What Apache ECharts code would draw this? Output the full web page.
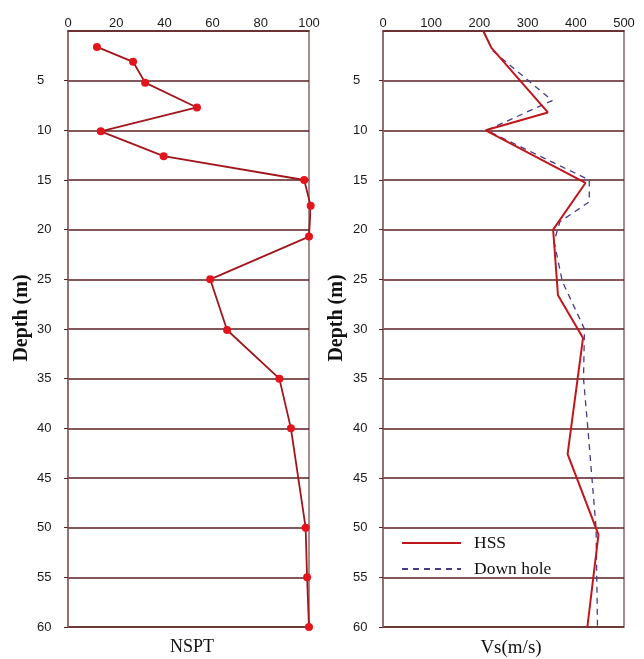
<!DOCTYPE html>
<html>
<head>
<meta charset="utf-8">
<script src="https://cdn.jsdelivr.net/npm/echarts@6/dist/echarts.min.js"></script>
<style>
  html, body { margin: 0; padding: 0; background: #fff; }
  #chart { width: 644px; height: 659px; }
</style>
</head>
<body>
<div id="chart"></div>
<script>
// NSPT profile (left panel)
const nsptDepth = [1.6, 3.1, 5.2, 7.7, 10.1, 12.6, 15, 17.6, 20.7, 25, 30.1, 35, 40, 50, 55, 60];
const nsptValue = [12, 27, 32, 53.5, 13.6, 39.7, 98, 100.7, 100, 59, 66, 87.7, 92.5, 98.6, 99.2, 100];

// Vs profiles (right panel)
const hssDepth = [0, 1.7, 8.2, 10, 15.3, 20, 26.6, 30.9, 42.6, 50.7, 60];
const hssVs = [208, 225, 342, 213, 420, 353, 363, 415, 383, 447, 424];
const dhDepth = [0, 2, 7, 10, 15, 17.2, 19.2, 21.2, 25.2, 30, 35, 40, 50, 60];
const dhVs = [208, 228, 351, 215, 428, 428, 367, 355, 372, 418, 416, 425, 442, 445];

const toPairs = (xs, ys) => xs.map((x, i) => [x, ys[i]]);

const borderCol = '#8a6868';
const gridCol = '#5a1f1f';
const tickFont = { color: '#1a1a1a', fontSize: 13, fontFamily: 'Liberation Sans, Arial, sans-serif' };
const serif = 'Liberation Serif, Times New Roman, serif';

const chart = echarts.init(document.getElementById('chart'));

const yAxisCfg = (gridIndex, margin) => ({
  gridIndex: gridIndex,
  type: 'value',
  inverse: true,
  min: 0,
  max: 60,
  interval: 5,
  axisLine: { show: true, lineStyle: { color: borderCol, width: 1.5 } },
  axisTick: { show: true, length: 4, lineStyle: { color: gridCol } },
  axisLabel: Object.assign({}, tickFont, {
    align: 'left',
    margin: margin,
    showMinLabel: false,
    formatter: v => (v === 0 ? '' : String(v))
  }),
  splitLine: { show: true, lineStyle: { color: gridCol, width: 1.5 } }
});

const xAxisCfg = (gridIndex, max, interval) => ({
  gridIndex: gridIndex,
  type: 'value',
  position: 'top',
  min: 0,
  max: max,
  interval: interval,
  axisLine: { show: true, lineStyle: { color: '#6b3030', width: 1.5 } },
  axisTick: { show: false },
  axisLabel: Object.assign({}, tickFont, { margin: 1 }),
  splitLine: { show: false }
});

const option = {
  animation: false,
  backgroundColor: '#fff',
  grid: [
    { left: 68, top: 31, width: 241, bottom: 32, show: true, borderColor: borderCol, borderWidth: 1.5 },
    { left: 383, top: 31, width: 241, bottom: 32, show: true, borderColor: borderCol, borderWidth: 1.5 }
  ],
  xAxis: [xAxisCfg(0, 100, 20), xAxisCfg(1, 500, 100)],
  yAxis: [yAxisCfg(0, 31), yAxisCfg(1, 30)],
  legend: {
    orient: 'vertical',
    left: 401,
    top: 534,
    padding: 0,
    itemWidth: 59,
    itemHeight: 14,
    itemGap: 8,
    itemStyle: { opacity: 0 },
    textStyle: { fontFamily: serif, fontSize: 17.5, color: '#111', padding: [0, 0, 0, 8] },
    data: ['HSS', 'Down hole']
  },
  series: [
    {
      name: 'NSPT',
      type: 'line',
      xAxisIndex: 0,
      yAxisIndex: 0,
      data: toPairs(nsptValue, nsptDepth),
      clip: false,
      symbol: 'circle',
      symbolSize: 8,
      itemStyle: { color: '#e3141c' },
      lineStyle: { color: '#a0161c', width: 1.8 }
    },
    {
      name: 'Down hole',
      type: 'line',
      xAxisIndex: 1,
      yAxisIndex: 1,
      data: toPairs(dhVs, dhDepth),
      symbol: 'none',
      itemStyle: { color: '#4a3a8a' },
      lineStyle: { color: '#4a3a8a', width: 1.3, type: [6, 5] }
    },
    {
      name: 'HSS',
      type: 'line',
      xAxisIndex: 1,
      yAxisIndex: 1,
      data: toPairs(hssVs, hssDepth),
      symbol: 'none',
      itemStyle: { color: '#c0161c' },
      lineStyle: { color: '#c0161c', width: 2 }
    }
  ],
  graphic: [
    {
      type: 'text', x: 22, y: 318, rotation: Math.PI / 2,
      style: { text: 'Depth (m)', fontFamily: serif, fontSize: 20, fontWeight: 'bold', fill: '#111', align: 'center', verticalAlign: 'middle' }
    },
    {
      type: 'text', x: 337, y: 318, rotation: Math.PI / 2,
      style: { text: 'Depth (m)', fontFamily: serif, fontSize: 20, fontWeight: 'bold', fill: '#111', align: 'center', verticalAlign: 'middle' }
    },
    {
      type: 'text', x: 192, y: 647,
      style: { text: 'NSPT', fontFamily: serif, fontSize: 18, fill: '#111', align: 'center', verticalAlign: 'middle' }
    },
    {
      type: 'text', x: 511, y: 648,
      style: { text: 'Vs(m/s)', fontFamily: serif, fontSize: 19, fill: '#111', align: 'center', verticalAlign: 'middle' }
    }
  ]
};

chart.setOption(option);
</script>
</body>
</html>
